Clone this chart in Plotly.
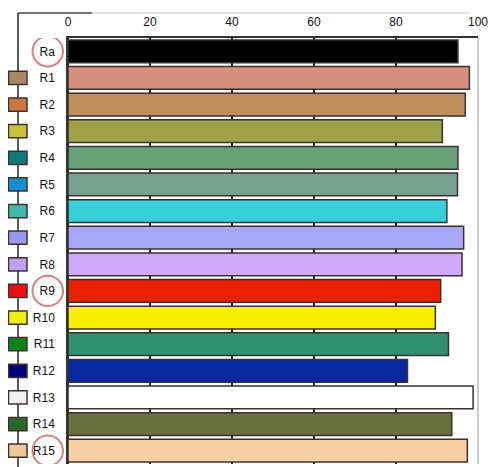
import plotly.graph_objects as go

categories = ["Ra", "R1", "R2", "R3", "R4", "R5", "R6", "R7", "R8", "R9",
              "R10", "R11", "R12", "R13", "R14", "R15"]
values = [95.1, 97.9, 96.9, 91.3, 95.1, 95.0, 92.4, 96.5, 96.1, 90.9,
          89.6, 92.8, 82.8, 98.8, 93.6, 97.4]
bar_colors = ["#000000", "#d4907f", "#c0905c", "#a0a048", "#68a078", "#78a090",
              "#38d0d8", "#a8a8f8", "#d0a8f8", "#e82000", "#f8f000", "#309070",
              "#0828a0", "#ffffff", "#687040", "#f8d0a8"]
swatch_colors = [None, "#a88868", "#c87840", "#c8c038", "#107878", "#1890d0",
                 "#40b8b0", "#9898f0", "#c0a0f0", "#e81010", "#f0f018", "#108018",
                 "#000080", "#f0f0f0", "#286828", "#f0c898"]
circled = ["Ra", "R9", "R15"]
x_ticks = [0, 20, 40, 60, 80, 100]

# page body has an 8px margin, so the figure is drawn 8px smaller and offset
OFF = 8
W, H = 498 - OFF, 467 - OFF
ML, MR, MT, MB = 68 - OFF, 28 - OFF, 38 - OFF, 11 - OFF
PW, PH = W - ML - MR, H - MT - MB


def px_x(p):
    return (p - OFF - ML) / PW


def px_y(p):
    return 1 - (p - OFF - MT) / PH


fig = go.Figure()
fig.add_trace(go.Bar(
    y=categories, x=values, orientation="h",
    marker=dict(color=bar_colors, line=dict(color="#3a3030", width=1.5)),
    showlegend=False,
))

shapes = []
# outer frame: stem line and top line
shapes.append(dict(type="line", xref="paper", yref="paper",
                   x0=px_x(18), x1=px_x(18), y0=px_y(13), y1=px_y(467),
                   line=dict(color="#222222", width=1.5)))
shapes.append(dict(type="line", xref="paper", yref="paper",
                   x0=px_x(18), x1=px_x(92), y0=px_y(13), y1=px_y(13),
                   line=dict(color="#444444", width=1.5)))
shapes.append(dict(type="line", xref="paper", yref="paper",
                   x0=px_x(92), x1=px_x(470), y0=px_y(13), y1=px_y(13),
                   line=dict(color="#d8d8d8", width=1.5)))
# right border of plot
shapes.append(dict(type="line", xref="paper", yref="paper",
                   x0=1, x1=1, y0=0, y1=1,
                   line=dict(color="#bbbbbb", width=1.5)))

for i, (cat, sc) in enumerate(zip(categories, swatch_colors)):
    if sc is not None:
        shapes.append(dict(type="rect", xref="paper", yref="y",
                           x0=px_x(8.5), x1=px_x(27), y0=i - 0.25, y1=i + 0.25,
                           fillcolor=sc, line=dict(color="#403030", width=1.5)))
    if cat in circled:
        shapes.append(dict(type="circle", xref="paper", yref="y",
                           x0=px_x(32.5), x1=px_x(63), y0=i - 0.57, y1=i + 0.57,
                           line=dict(color="#d88080", width=2)))

fig.update_layout(
    width=W, height=H,
    margin=dict(l=ML, r=MR, t=MT, b=MB, pad=0, autoexpand=False),
    paper_bgcolor="white", plot_bgcolor="white",
    bargap=0.15,
    shapes=shapes,
    font=dict(family="Liberation Sans, Arial, sans-serif", size=12, color="#111111"),
    xaxis=dict(side="top", range=[0, 100], tickvals=x_ticks, automargin=False,
               showgrid=True, gridcolor="#222222", gridwidth=1.5,
               zeroline=True, zerolinecolor="#222222", zerolinewidth=1.5,
               showline=True, linecolor="#333333", linewidth=1.5,
               ticks="outside", ticklen=5, tickcolor="rgba(0,0,0,0)",
               tickfont=dict(size=12)),
    yaxis=dict(range=[15.5, -0.5], categoryorder="array", categoryarray=categories,
               automargin=False,
               showgrid=False, zeroline=False,
               showline=True, linecolor="#333333", linewidth=1.5,
               ticks="outside", ticklen=9, tickcolor="rgba(0,0,0,0)",
               tickfont=dict(size=12)),
)

fig.write_html("out.html")
